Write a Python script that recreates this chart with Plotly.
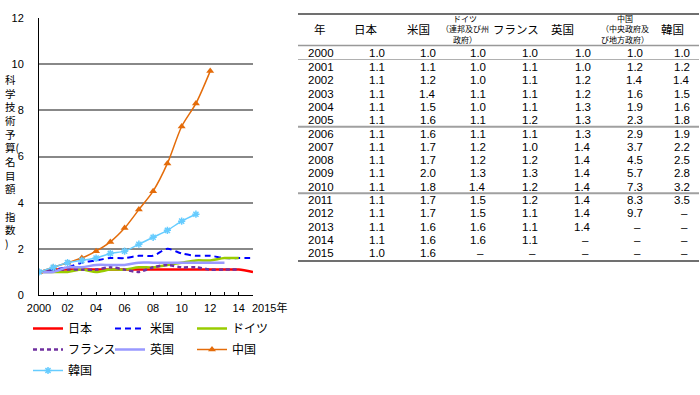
import plotly.graph_objects as go

# ---------------- data ----------------
years = list(range(2000, 2016))
series_names = ["日本", "米国", "ドイツ", "フランス", "英国", "中国", "韓国"]
japan   = [1.0, 1.1, 1.1, 1.1, 1.1, 1.1, 1.1, 1.1, 1.1, 1.1, 1.1, 1.1, 1.1, 1.1, 1.1, 1.0]
usa     = [1.0, 1.1, 1.2, 1.4, 1.5, 1.6, 1.6, 1.7, 1.7, 2.0, 1.8, 1.7, 1.7, 1.6, 1.6, 1.6]
germany = [1.0, 1.0, 1.0, 1.1, 1.0, 1.1, 1.1, 1.2, 1.2, 1.3, 1.4, 1.5, 1.5, 1.6, 1.6, None]
france  = [1.0, 1.1, 1.1, 1.1, 1.1, 1.2, 1.1, 1.0, 1.2, 1.3, 1.2, 1.2, 1.1, 1.1, 1.1, None]
uk      = [1.0, 1.0, 1.2, 1.2, 1.3, 1.3, 1.3, 1.4, 1.4, 1.4, 1.4, 1.4, 1.4, 1.4, None, None]
china   = [1.0, 1.2, 1.4, 1.6, 1.9, 2.3, 2.9, 3.7, 4.5, 5.7, 7.3, 8.3, 9.7, None, None, None]
korea   = [1.0, 1.2, 1.4, 1.5, 1.6, 1.8, 1.9, 2.2, 2.5, 2.8, 3.2, 3.5, None, None, None, None]

x_tick_labels = ["2000", "", "02", "", "04", "", "06", "", "08", "", "10", "", "12", "", "14", ""]
x_last_label = "2015年"
y_title_chars = ["科", "学", "技", "術", "予", "算(", "名", "目", "額", "\u00a0", "指", "数", ")"]

table_headers = ["年", "日本", "米国", "ドイツ<br>（連邦及び州<br>政府）", "フランス", "英国",
                 "中国<br>（中央政府及<br>び地方政府）", "韓国"]

# ---------------- layout helpers ----------------
W, H = 700, 395
ML, MR = 28, 412
PW = W - ML - MR
FONT = "Liberation Sans, Arial, Noto Sans CJK JP, sans-serif"
JFONT = "Noto Sans CJK JP, Liberation Sans, sans-serif"


def PX(x):
    return (x - ML) / PW


def PY(y):
    return (H - y) / H


fig = go.Figure()

styles = [
    dict(color="#FF0000", width=2.5, dash="solid"),
    dict(color="#0000FF", width=2, dash="6px,4px"),
    dict(color="#99CC00", width=2.5, dash="solid"),
    dict(color="#7030A0", width=2.5, dash="4px,3px"),
    dict(color="#9999FF", width=2.5, dash="solid"),
    dict(color="#E46C0A", width=1.5, dash="solid"),
    dict(color="#66CCFF", width=1.5, dash="solid"),
]
all_series = [japan, usa, germany, france, uk, china, korea]
markers = [None, None, None, None, None,
           dict(symbol="triangle-up", size=7, color="#E46C0A"),
           dict(symbol="asterisk-open", size=6, color="#66CCFF", line=dict(color="#66CCFF", width=1.5))]
legend_ids = ["legend", "legend2", "legend3", "legend", "legend2", "legend3", "legend"]

for name, vals, st, mk, lg in zip(series_names, all_series, styles, markers, legend_ids):
    fig.add_trace(go.Scatter(
        x=years, y=vals, name=name, legend=lg, legendgroup=name,
        mode="lines+markers" if mk else "lines",
        line=dict(color=st["color"], width=st["width"], dash=st["dash"], shape="spline", smoothing=0.8),
        marker=mk if mk else None,
        hoverinfo="skip",
    ))

leg_common = dict(orientation="v", yanchor="top", xanchor="left", y=PY(314),
                  font=dict(family=JFONT, size=12), bgcolor="rgba(0,0,0,0)", tracegroupgap=2)

fig.update_layout(
    width=W, height=H,
    margin=dict(l=ML, r=MR, t=0, b=0, autoexpand=False),
    paper_bgcolor="white", plot_bgcolor="white",
    font=dict(family=FONT, size=12, color="black"),
    showlegend=True,
    legend=dict(x=PX(28), **leg_common),
    legend2=dict(x=PX(110), **leg_common),
    legend3=dict(x=PX(192), **leg_common),
    xaxis=dict(domain=[PX(39), PX(253)], range=[2000, 2015], tickvals=years, ticktext=x_tick_labels,
               ticks="inside", ticklen=3, tickcolor="black", showline=True, linecolor="black",
               linewidth=1, showgrid=False, zeroline=False, tickfont=dict(size=11),
               ticklabelstandoff=3),
    yaxis=dict(domain=[PY(295), PY(18)], range=[0, 12], dtick=2, showgrid=True, gridcolor="#888888",
               gridwidth=1.5, showline=True, linecolor="black", linewidth=1, ticks="", zeroline=False,
               tickfont=dict(size=11), ticklabelstandoff=12),
)

ann = []
ann.append(dict(x=2015, xref="x", y=PY(307.5), yref="paper", text=x_last_label, showarrow=False,
                xanchor="left", yanchor="middle", xshift=-3, font=dict(family=FONT, size=11)))

n_title = len(y_title_chars)
title_first, title_step = 79.5, 13.65
ann.append(dict(x=PX(4), y=PY(title_first + (n_title - 1) * title_step / 2), xref="paper", yref="paper",
                text="<br>".join(y_title_chars), showarrow=False, xanchor="left", yanchor="middle",
                align="left", borderpad=0, font=dict(family=JFONT, size=10.5)))

# ---------------- table ----------------
head_x = [320, 366, 418, 465, 516, 562, 625, 672]
for hx, ht in zip(head_x, table_headers):
    small = "<br>" in ht
    ann.append(dict(x=PX(hx), y=PY(28.5), xref="paper", yref="paper", text=ht, showarrow=False,
                    xanchor="center", yanchor="middle", align="center",
                    font=dict(family=JFONT, size=8 if small else 11.5)))

val_right = [386.5, 437.5, 487.5, 540, 593, 645, 691.5]


def row_y(i):
    return 53.5 if i == 0 else 67 + (i - 1) * 13.3


for i, yr in enumerate(years):
    ry = row_y(i)
    ann.append(dict(x=PX(306), y=PY(ry), xref="paper", yref="paper", text=str(yr), showarrow=False,
                    xanchor="left", yanchor="middle", font=dict(family=FONT, size=11.5)))
    for vx, vals in zip(val_right, all_series):
        v = vals[i]
        ann.append(dict(x=PX(vx), y=PY(ry), xref="paper", yref="paper",
                        text=("%.1f" % v) if v is not None else "–", showarrow=False,
                        xanchor="right", yanchor="middle", xshift=0 if v is not None else -2,
                        font=dict(family=FONT, size=11.5)))

fig.update_layout(annotations=ann)

rules = [(14, "#404040", 1.5), (45.5, "#999999", 1.5), (59.5, "#B0B0B0", 1),
         ((row_y(5) + row_y(6)) / 2, "#A0A0A0", 2), ((row_y(10) + row_y(11)) / 2, "#A0A0A0", 2),
         (261, "#404040", 1.5)]
for ly, lc, lw in rules:
    fig.add_shape(type="line", xref="paper", yref="paper", x0=PX(298), x1=PX(699), y0=PY(ly), y1=PY(ly),
                  line=dict(color=lc, width=lw))

fig.write_html("out.html", config={"displayModeBar": False},
               post_script="document.body.style.margin='0';document.body.style.padding='0';")
